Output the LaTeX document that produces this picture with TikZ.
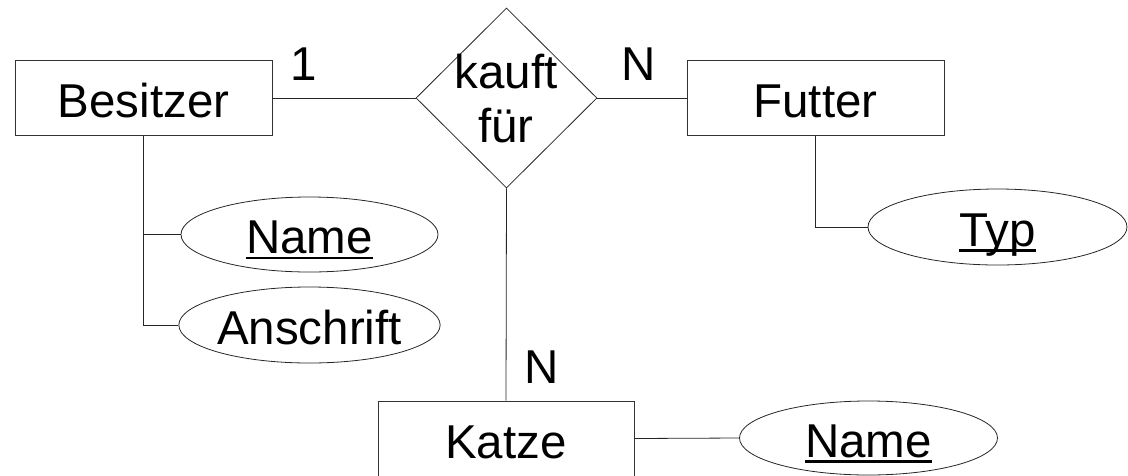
\documentclass[tikz,border=0pt]{standalone}
\usepackage{fontspec}
\setmainfont{Liberation Sans}
\usetikzlibrary{shapes.geometric}
\newcommand\ulin[1]{\setbox0\hbox{#1}\rlap{\rule[-5.5pt]{\wd0}{2.3pt}}\box0}
\tikzset{
  erfont/.style={font=\fontsize{47.5}{54}\selectfont},
  entity/.style={draw=black!80, line width=0.9pt, rectangle, minimum width=257pt, minimum height=75pt,
    inner sep=0pt, text height=39pt, text depth=0pt, erfont},
  attr/.style={draw=black!85, line width=0.8pt, ellipse, minimum width=257pt, minimum height=75pt,
    inner sep=0pt, text height=38pt, text depth=0pt, erfont},
  rel/.style={draw=black!85, line width=0.8pt, diamond, minimum width=181pt, minimum height=180pt, inner sep=0pt},
  lbl/.style={anchor=base, inner sep=0pt, erfont},
  conn/.style={draw=black!85, line width=0.8pt}
}
\begin{document}
\begin{tikzpicture}[x=1pt, y=-1pt]
\useasboundingbox (0,0) rectangle (1128,475);
\clip (0,0) rectangle (1128,475);
\node[entity] (B) at (143.5,98) {Besitzer};
\node[entity] (F) at (815.5,98) {Futter};
\node[entity, minimum width=256pt] (K) at (506,438.5) {Katze};
\node[rel] (D) at (506.5,98) {};
\node[lbl] (Dt1) at (506,88) {kauft};
\node[lbl] (Dt2) at (506,142) {für};
\node[attr] (N1) at (309.5,234.5) {\ulin{Name}};
\node[attr, minimum height=76pt] (A) at (309.5,325) {Anschrift};
\node[attr, minimum width=259pt, minimum height=76pt] (T) at (997.5,227) {\ulin{Typ}};
\node[attr, minimum width=258pt, minimum height=74pt] (N2) at (868.5,438) {\ulin{Name}};
\node[lbl] (c1) at (304,80) {1};
\node[lbl] (c2) at (639,80) {N};
\node[lbl] (c3) at (542,383) {N};
\draw[conn] (B.east) -- (D.west);
\draw[conn] (D.east) -- (F.west);
\draw[conn] (D.south) -- (K.north);
\draw[conn] (B.south) |- (A.west);
\draw[conn] (B.south |- N1.west) -- (N1.west);
\draw[conn] (F.south) |- (T.west);
\draw[conn] (K.east) -- (N2.west);
\end{tikzpicture}
\end{document}
